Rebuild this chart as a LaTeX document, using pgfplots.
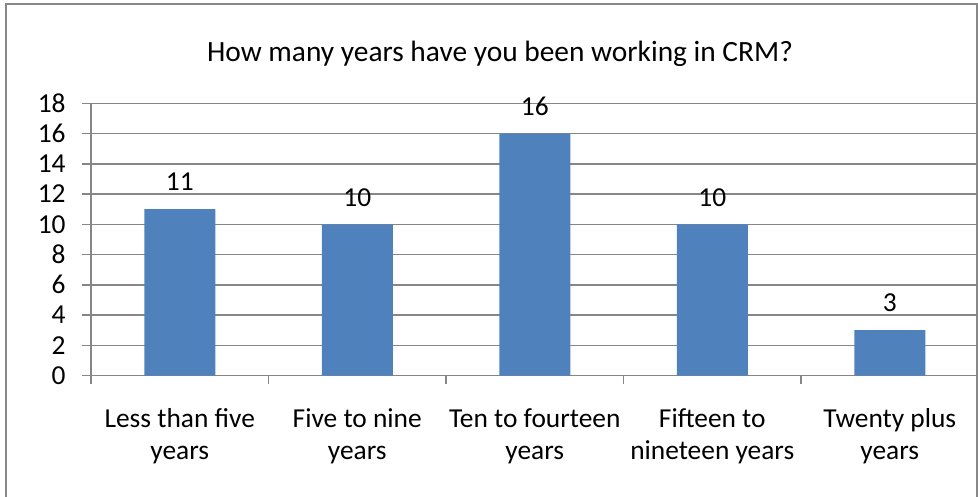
\documentclass[border=0pt]{standalone}
\usepackage{pgfplots}
\pgfplotsset{compat=1.18}
\usepackage{fontspec}
\setmainfont{Carlito}
\definecolor{barblue}{HTML}{4F81BD}
\definecolor{gridgray}{HTML}{868686}
\definecolor{bordergray}{HTML}{888888}
\begin{document}
\fontsize{13.7}{16}\selectfont
\begin{tikzpicture}
\useasboundingbox (0pt,0pt) rectangle (489pt,-248.5pt);
\draw[bordergray, line width=1pt] (2.75pt,-250pt) -- (2.75pt,-2.25pt) -- (488.5pt,-2.25pt) -- (488.5pt,-250pt);
\node[font=\fontsize{14.7}{17}\selectfont] at (250pt,-26.8pt) {How many years have you been working in CRM?};
\begin{axis}[
  at={(45.5pt,-187.75pt)}, anchor=south west, scale only axis,
  width=443.75pt, height=136.1pt,
  xmin=-0.5, xmax=4.5, ymin=0, ymax=18,
  ytick={0,2,...,18},
  xtick={0,1,2,3,4},
  xticklabels={{Less than five\\years},{Five to nine\\years},{Ten to fourteen\\years},{Fifteen to\\nineteen years},{Twenty plus\\years}},
  minor xtick={-0.5,0.5,1.5,2.5,3.5},
  major x tick style={draw=none},
  axis lines*=left,
  ymajorgrids,
  grid style={gridgray, line width=0.75pt},
  axis line style={gridgray, line width=0.75pt},
  tick style={gridgray, line width=0.75pt},
  tick align=outside,
  major tick length=4.5pt, minor tick length=4pt,
  ybar, bar width=35.5pt,
  nodes near coords,
  nodes near coords style={anchor=center, yshift=13.5pt, font=\fontsize{13.7}{16}\selectfont, text=black},
  ticklabel style={font=\fontsize{13.7}{16}\selectfont, text=black},
  xticklabel style={align=center, anchor=north, inner sep=0pt, yshift=-12pt},
  yticklabel style={anchor=east, inner sep=0pt, xshift=-8pt},
  /pgf/number format/assume math mode=true,
  clip=false,
]
\addplot[fill=barblue, draw=none] coordinates {(0,11) (1,10) (2,16) (3,10) (4,3)};
\end{axis}
\end{tikzpicture}
\end{document}
